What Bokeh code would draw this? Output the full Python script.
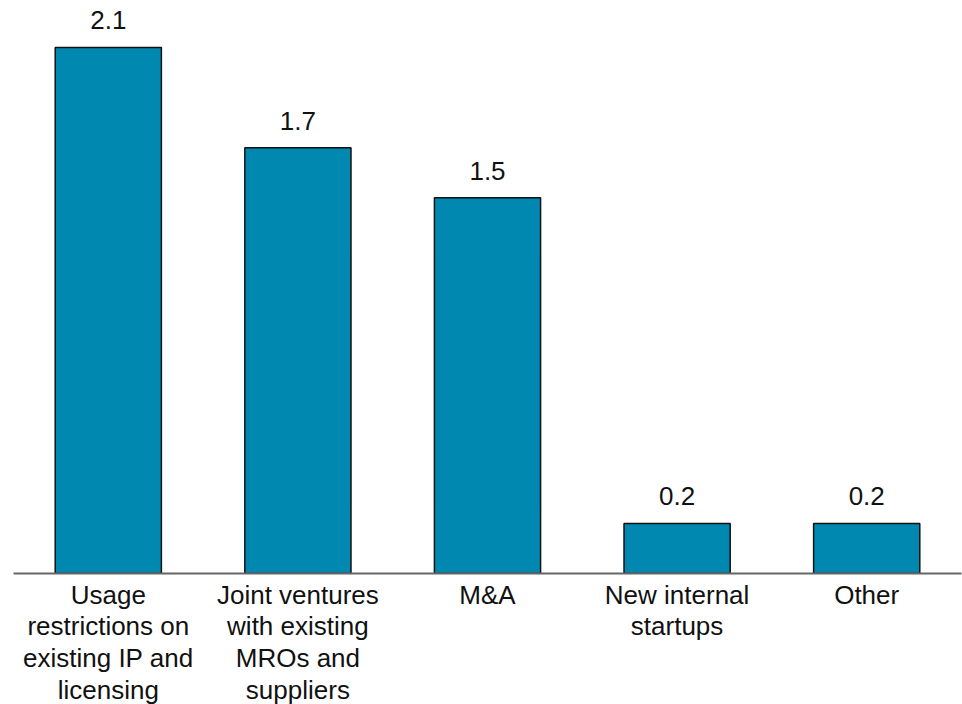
from bokeh.plotting import figure
from bokeh.models import ColumnDataSource, FactorRange
from bokeh.embed import file_html
from bokeh.resources import INLINE
from bokeh.core.properties import value

categories = [
    "Usage\nrestrictions on\nexisting IP and\nlicensing",
    "Joint ventures\nwith existing\nMROs and\nsuppliers",
    "M&A",
    "New internal\nstartups",
    "Other",
]
values = [2.1, 1.7, 1.5, 0.2, 0.2]
value_labels = ["2.1", "1.7", "1.5", "0.2", "0.2"]

src = ColumnDataSource(dict(cat=categories, val=values, lab=value_labels))

p = figure(
    x_range=FactorRange(*categories, range_padding=0.0),
    y_range=(0, 2.2874),
    frame_width=948, frame_height=573,
    output_backend="svg", toolbar_location=None,
    min_border_left=13, min_border_right=1, min_border_top=0, min_border_bottom=0,
)
p.x_range.factor_padding = 0.0
p.x_range.group_padding = 0.0

p.vbar(x="cat", top="val", width=0.56, source=src,
       fill_color="#0088B0", line_color="#111111", line_width=1.5)

p.text(x="cat", y="val", text="lab", source=src,
       text_align="center", text_baseline="alphabetic", y_offset=-27,
       text_font=value("Liberation Sans"), text_font_size="26px", text_color="#111111")

p.yaxis.visible = False
p.grid.visible = False
p.outline_line_color = None

ax = p.xaxis[0]
ax.axis_line_color = "#666666"
ax.axis_line_width = 2
ax.major_tick_line_color = None
ax.minor_tick_line_color = None
ax.major_label_text_font = "Liberation Sans"
ax.major_label_text_font_size = "26px"
ax.major_label_text_line_height = 1.06
ax.major_label_text_color = "#111111"
ax.major_label_standoff = 0
ax.major_label_orientation = "horizontal"

open("out.html", "w").write(file_html(p, INLINE))
